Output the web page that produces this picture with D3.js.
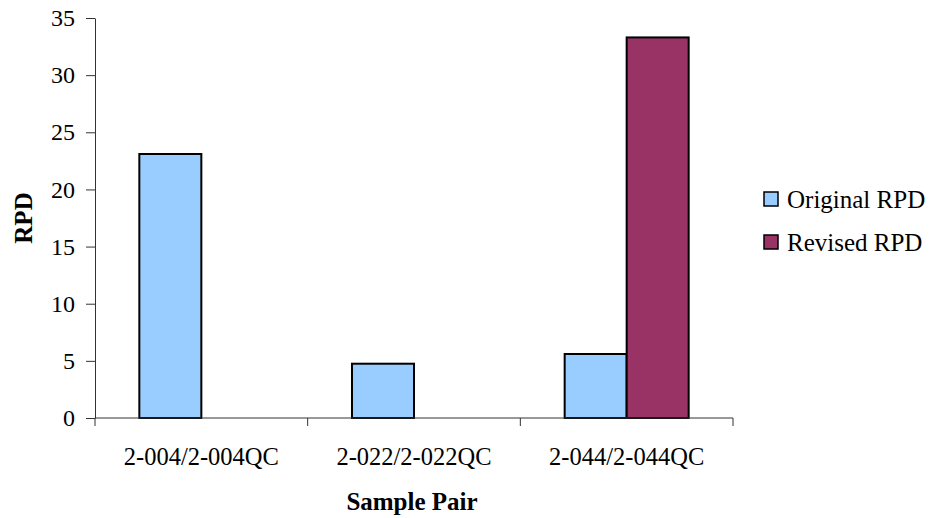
<!DOCTYPE html>
<html>
<head>
<meta charset="utf-8">
<script src="https://cdn.jsdelivr.net/npm/d3@7"></script>
<style>
  html, body { margin: 0; padding: 0; background: #fff; }
  svg { display: block; }
</style>
</head>
<body>
<svg id="chart" width="929" height="518"></svg>
<script>
// Sample pairs and their relative percent differences
const categories = ["2-004/2-004QC", "2-022/2-022QC", "2-044/2-044QC"];
const seriesNames = ["Original RPD", "Revised RPD"];
const originalRPD = [23.1, 4.75, 5.6];
const revisedRPD = [0, 0, 33.3];
const yTicks = [0, 5, 10, 15, 20, 25, 30, 35];
const colors = ["#99CCFF", "#993366"];

const serif = "'Liberation Serif', 'Times New Roman', serif";
const svg = d3.select("#chart");
const plotLeft = 95, plotRight = 733, plotTop = 18, plotBottom = 418;
const fontSize = 24;

const x = d3.scaleBand().domain(categories).range([plotLeft, plotRight]).paddingInner(0).paddingOuter(0);
const x1 = d3.scaleBand().domain(seriesNames).range([0, x.bandwidth()]).paddingInner(0).paddingOuter(0.715);
const y = d3.scaleLinear().domain([0, 35]).range([plotBottom, plotTop]);

const rows = categories.map((c, i) => ({ cat: c, vals: [originalRPD[i], revisedRPD[i]] }));

// Bars
const groups = svg.append("g").selectAll("g").data(rows).join("g")
  .attr("transform", d => `translate(${x(d.cat)},0)`);
groups.selectAll("rect")
  .data(d => d.vals.map((v, k) => ({ v, k })).filter(e => e.v > 0))
  .join("rect")
  .attr("x", e => x1(seriesNames[e.k]))
  .attr("width", x1.bandwidth())
  .attr("y", e => y(e.v))
  .attr("height", e => y(0) - y(e.v))
  .attr("fill", e => colors[e.k])
  .attr("stroke", "#000")
  .attr("stroke-width", 2);

// Y axis
const yAxis = svg.append("g").attr("transform", `translate(${plotLeft},0)`)
  .call(d3.axisLeft(y).tickValues(yTicks).tickSize(9).tickPadding(11).tickSizeOuter(0));
yAxis.select(".domain").attr("stroke", "#333");
yAxis.selectAll(".tick line").attr("stroke", "#333");
yAxis.selectAll("text")
  .style("font-family", serif).style("font-size", fontSize + "px").attr("fill", "#000");

// X axis with ticks at category boundaries
const xAxis = svg.append("g").attr("transform", `translate(0,${plotBottom})`);
xAxis.append("line").attr("x1", plotLeft).attr("x2", plotRight).attr("y1", 0).attr("y2", 0).attr("stroke", "#333");
const xEdges = categories.map(c => x(c)).concat([plotRight]);
xAxis.selectAll("line.tk").data(xEdges).join("line").attr("class", "tk")
  .attr("x1", d => d).attr("x2", d => d).attr("y1", 0).attr("y2", 8).attr("stroke", "#333");
xAxis.selectAll("text").data(categories).join("text")
  .attr("x", d => x(d) + x.bandwidth() / 2)
  .attr("y", 47)
  .attr("text-anchor", "middle")
  .style("font-family", serif).style("font-size", "24.5px")
  .text(d => d);

// Axis titles
svg.append("text")
  .attr("transform", `translate(32,${(plotTop + plotBottom) / 2}) rotate(-90)`)
  .attr("text-anchor", "middle")
  .style("font-family", serif).style("font-size", "25px").style("font-weight", "bold")
  .text("RPD");
svg.append("text")
  .attr("x", 412).attr("y", 510)
  .attr("text-anchor", "middle")
  .style("font-family", serif).style("font-size", "25px").style("font-weight", "bold")
  .text("Sample Pair");

// Legend
const legend = svg.append("g").attr("transform", "translate(764,192)");
const li = legend.selectAll("g").data(seriesNames).join("g")
  .attr("transform", (d, i) => `translate(0,${i * 43})`);
li.append("rect").attr("width", 14).attr("height", 14)
  .attr("fill", (d, i) => colors[i]).attr("stroke", "#000").attr("stroke-width", 1.5);
li.append("text").attr("x", 23).attr("y", 16)
  .style("font-family", serif).style("font-size", "25px")
  .text(d => d);
</script>
</body>
</html>
